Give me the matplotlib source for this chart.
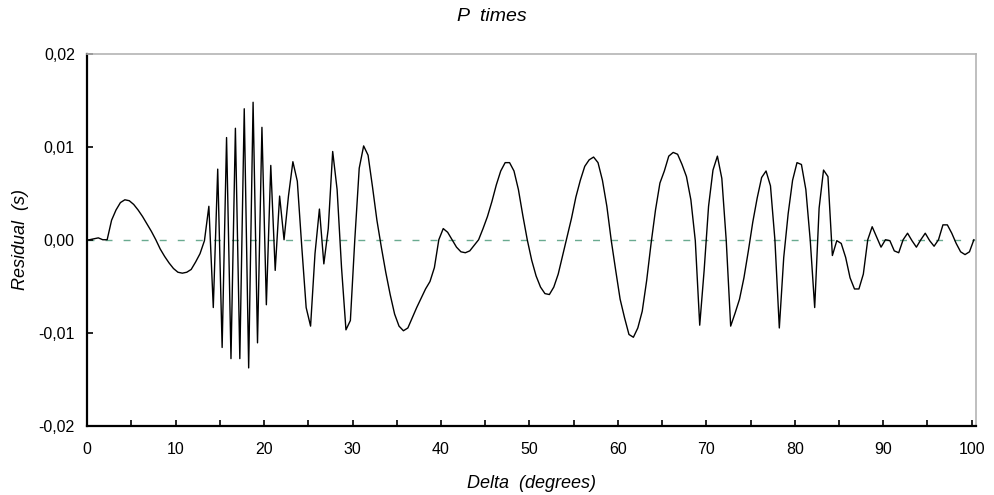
import numpy as np
import matplotlib
matplotlib.use("Agg")
import matplotlib.pyplot as plt
from matplotlib.ticker import MultipleLocator, FuncFormatter

# Sampling grid (degrees) - 0.5 degree steps
delta = np.arange(0.25, 100.26, 0.5)

residual = [
    0.0000, 0.0001, 0.0002, 0.0000, 0.0000, 0.0021, 0.0032, 0.0040, 0.0043, 0.0042,
    0.0038, 0.0032, 0.0025, 0.0017, 0.0009, 0.0000, -0.0010, -0.0018, -0.0025, -0.0031,
    -0.0035, -0.0036, -0.0035, -0.0032, -0.0024, -0.0015, -0.0001, 0.0036, -0.0073, 0.0076,
    -0.0116, 0.0110, -0.0128, 0.0120, -0.0128, 0.0141, -0.0138, 0.0148, -0.0111, 0.0121,
    -0.0070, 0.0080, -0.0033, 0.0047, 0.0000, 0.0047, 0.0084, 0.0063, -0.0007, -0.0073,
    -0.0093, -0.0015, 0.0033, -0.0026, 0.0012, 0.0095, 0.0054, -0.0030, -0.0097, -0.0087,
    0.0000, 0.0077, 0.0101, 0.0091, 0.0057, 0.0021, -0.0008, -0.0035, -0.0059, -0.0080,
    -0.0093, -0.0098, -0.0095, -0.0084, -0.0073, -0.0063, -0.0053, -0.0045, -0.0030, 0.0000,
    0.0012, 0.0008, 0.0000, -0.0008, -0.0013, -0.0014, -0.0012, -0.0006, 0.0000, 0.0012,
    0.0025, 0.0041, 0.0059, 0.0074, 0.0083, 0.0083, 0.0074, 0.0054, 0.0026, 0.0000,
    -0.0022, -0.0039, -0.0051, -0.0058, -0.0059, -0.0051, -0.0037, -0.0017, 0.0003, 0.0023,
    0.0046, 0.0064, 0.0079, 0.0086, 0.0089, 0.0083, 0.0064, 0.0036, -0.0001, -0.0033,
    -0.0064, -0.0084, -0.0102, -0.0105, -0.0095, -0.0077, -0.0044, -0.0004, 0.0032, 0.0061,
    0.0074, 0.0090, 0.0094, 0.0092, 0.0081, 0.0068, 0.0043, -0.0001, -0.0092, -0.0033,
    0.0036, 0.0075, 0.0090, 0.0066, -0.0001, -0.0093, -0.0079, -0.0064, -0.0041, -0.0012,
    0.0019, 0.0045, 0.0067, 0.0074, 0.0058, 0.0000, -0.0095, -0.0019, 0.0028, 0.0064,
    0.0083, 0.0081, 0.0054, -0.0001, -0.0073, 0.0034, 0.0075, 0.0068, -0.0017, -0.0001,
    -0.0004, -0.0019, -0.0041, -0.0053, -0.0053, -0.0037, 0.0000, 0.0014, 0.0003, -0.0008,
    0.0000, -0.0001, -0.0012, -0.0014, 0.0000, 0.0007, -0.0001, -0.0008, 0.0000, 0.0007,
    -0.0001, -0.0007, 0.0000, 0.0016, 0.0016, 0.0007, -0.0004, -0.0013, -0.0016, -0.0013,
    0.0000,
]

x_ticks = [0, 10, 20, 30, 40, 50, 60, 70, 80, 90, 100]
y_ticks = [-0.02, -0.01, 0.0, 0.01, 0.02]

plt.rcParams['font.family'] = ['Liberation Sans', 'DejaVu Sans']

fig = plt.figure(figsize=(9.95, 4.95), dpi=100)
ax = fig.add_axes([0.0877, 0.1404, 0.981 - 0.0877, 0.891 - 0.1404])

ax.axhline(0, color='#6aaa90', lw=1.0, dashes=(5, 8), zorder=1)
ax.plot(delta, residual, color='black', lw=1.0, zorder=2)

ax.set_xlim(0, 100.5)
ax.set_ylim(-0.02, 0.02)
ax.set_xticks(x_ticks)
ax.xaxis.set_minor_locator(MultipleLocator(5))
ax.set_yticks(y_ticks)

def yfmt(v, pos):
    s = f"{v:.2f}"
    if s == "-0.00":
        s = "0.00"
    return s.replace('.', ',')

ax.yaxis.set_major_formatter(FuncFormatter(yfmt))

ax.tick_params(axis='both', which='both', direction='in', length=4, width=1.2,
               labelsize=11.5, colors='black')
ax.tick_params(axis='x', pad=12)
ax.tick_params(axis='y', pad=9)

for side in ['left', 'bottom']:
    ax.spines[side].set_color('black')
    ax.spines[side].set_linewidth(1.6)
for side in ['top', 'right']:
    ax.spines[side].set_color('#b4b4b4')
    ax.spines[side].set_linewidth(1.2)

ax.set_xlabel('Delta  (degrees)', fontsize=13, style='italic', labelpad=13)
ax.set_ylabel('Residual  (s)', fontsize=13, style='italic', labelpad=7)
fig.text(492 / 995, 1 - 20.7 / 495, 'P  times', fontsize=14, style='italic',
         ha='center', va='baseline')

fig.savefig('out.png', dpi=100)
